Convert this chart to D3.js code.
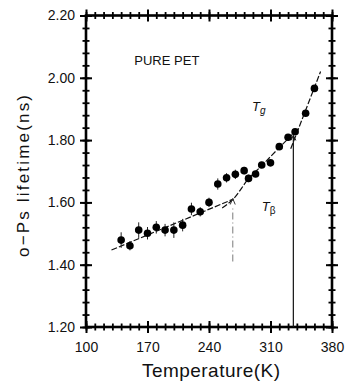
<!DOCTYPE html>
<html>
<head>
<meta charset="utf-8">
<script src="https://cdn.jsdelivr.net/npm/d3@7"></script>
<style>
  body { margin: 0; background: #fff; }
  svg { display: block; font-family: "Liberation Sans", Arial, sans-serif; }
  .fit { fill: none; stroke: #111; stroke-width: 1.2; stroke-dasharray: 6,2; }
  .tick text { font-size: 14px; fill: #111; }
  .tick line { stroke: #000; stroke-width: 2; }
  .minor .tick line { stroke-width: 1.8; }
</style>
</head>
<body>
<svg id="chart" width="347" height="382"></svg>
<script>
// measured o-Ps lifetime vs temperature
const temps = [140, 150, 160, 170, 180, 190, 200, 210, 220, 230, 240, 250,
  260, 270, 280, 285, 293, 300, 310, 320, 330, 338, 350, 360];
const lifetimes = [1.479, 1.461, 1.511, 1.501, 1.520, 1.511, 1.511, 1.527, 1.579, 1.570, 1.600, 1.659,
  1.679, 1.690, 1.702, 1.677, 1.691, 1.720, 1.727, 1.779, 1.809, 1.827, 1.886, 1.966];
const errors = [0.025, 0.015, 0.025, 0.02, 0.02, 0.02, 0.025, 0.02, 0.02, 0.015, 0.015, 0.018,
  0.015, 0.015, 0.012, 0.012, 0.01, 0.01, 0.01, 0.01, 0.01, 0.01, 0.01, 0.01];

// fitted lines
const fitLowT = [129, 268];
const fitLowV = [1.447, 1.611];
const fitMidT = [255, 268, 285, 300, 320, 342];
const fitMidV = [1.582, 1.612, 1.676, 1.718, 1.776, 1.838];
const fitHighT = [333, 367];
const fitHighV = [1.772, 2.02];

// transition markers
const tBeta = 267;
const tBetaRange = [1.41, 1.59];
const tGlass = 336;
const tGlassRange = [1.20, 1.815];

const xMajor = [100, 170, 240, 310, 380];
const xMinor = d3.range(100, 381, 10);
const yMajor = [1.20, 1.40, 1.60, 1.80, 2.00, 2.20];
const yMinor = d3.range(1.20, 2.2001, 0.04);

const plotLeft = 86, plotRight = 332, plotTop = 15.5, plotBottom = 327;

const svg = d3.select('#chart');

const x = d3.scaleLinear().domain([100, 380]).range([plotLeft, plotRight]);
const y = d3.scaleLinear().domain([1.2, 2.2]).range([plotBottom, plotTop]);

// frame
svg.append('rect')
  .attr('x', plotLeft).attr('y', plotTop)
  .attr('width', plotRight - plotLeft).attr('height', plotBottom - plotTop)
  .attr('fill', 'none').attr('stroke', '#000').attr('stroke-width', 2.6);

// crossing tick marks on all four sides
function crossTicks(g, len, horiz) {
  g.select('.domain').remove();
  if (horiz) {
    g.selectAll('.tick line').attr('y1', -len).attr('y2', len);
  } else {
    g.selectAll('.tick line').attr('x1', -len).attr('x2', len);
  }
}

svg.append('g').attr('class', 'minor')
  .attr('transform', 'translate(0,' + plotBottom + ')')
  .call(d3.axisBottom(x).tickValues(xMinor).tickFormat('').tickSize(0))
  .call(g => crossTicks(g, 3.5, true));
svg.append('g').attr('class', 'minor')
  .attr('transform', 'translate(0,' + plotTop + ')')
  .call(d3.axisTop(x).tickValues(xMinor).tickFormat('').tickSize(0))
  .call(g => crossTicks(g, 3.5, true));
svg.append('g').attr('class', 'minor')
  .attr('transform', 'translate(' + plotLeft + ',0)')
  .call(d3.axisLeft(y).tickValues(yMinor).tickFormat('').tickSize(0))
  .call(g => crossTicks(g, 3.5, false));
svg.append('g').attr('class', 'minor')
  .attr('transform', 'translate(' + plotRight + ',0)')
  .call(d3.axisRight(y).tickValues(yMinor).tickFormat('').tickSize(0))
  .call(g => crossTicks(g, 3.5, false));

svg.append('g')
  .attr('transform', 'translate(0,' + plotBottom + ')')
  .call(d3.axisBottom(x).tickValues(xMajor).tickFormat(d3.format('d')).tickSize(5).tickPadding(10))
  .call(g => crossTicks(g, 6, true));
svg.append('g')
  .attr('transform', 'translate(0,' + plotTop + ')')
  .call(d3.axisTop(x).tickValues(xMajor).tickFormat('').tickSize(5))
  .call(g => crossTicks(g, 6, true));
svg.append('g')
  .attr('transform', 'translate(' + plotLeft + ',0)')
  .call(d3.axisLeft(y).tickValues(yMajor).tickFormat(d3.format('.2f')).tickSize(5).tickPadding(6))
  .call(g => crossTicks(g, 6, false));
svg.append('g')
  .attr('transform', 'translate(' + plotRight + ',0)')
  .call(d3.axisRight(y).tickValues(yMajor).tickFormat('').tickSize(5))
  .call(g => crossTicks(g, 6, false));

// fits
const line = d3.line().x(d => x(d[0])).y(d => y(d[1]));
svg.append('path').attr('class', 'fit')
  .attr('d', line(d3.zip(fitLowT, fitLowV)));
svg.append('path').attr('class', 'fit')
  .attr('d', line.curve(d3.curveMonotoneX)(d3.zip(fitMidT, fitMidV)));
svg.append('path').attr('class', 'fit')
  .attr('d', line.curve(d3.curveLinear)(d3.zip(fitHighT, fitHighV)));

// T_beta marker (grey dash-dot)
svg.append('line')
  .attr('x1', x(tBeta)).attr('x2', x(tBeta))
  .attr('y1', y(tBetaRange[0])).attr('y2', y(tBetaRange[1]))
  .attr('stroke', '#9a9a9a').attr('stroke-width', 1.3)
  .attr('stroke-dasharray', '7,3,1,3');
svg.append('path')
  .attr('d', `M${x(tBeta) - 2.5},${y(tBetaRange[1]) - 1}L${x(tBeta)},${y(tBetaRange[1]) - 7}L${x(tBeta) + 2.5},${y(tBetaRange[1]) - 1}`)
  .attr('fill', 'none').attr('stroke', '#333').attr('stroke-width', 1);

// T_g marker (solid)
svg.append('line')
  .attr('x1', x(tGlass)).attr('x2', x(tGlass))
  .attr('y1', y(tGlassRange[0])).attr('y2', y(tGlassRange[1]))
  .attr('stroke', '#111').attr('stroke-width', 1.2);
svg.append('path')
  .attr('d', `M${x(tGlass) - 2.5},${y(tGlassRange[1]) + 5}L${x(tGlass)},${y(tGlassRange[1])}L${x(tGlass) + 2.5},${y(tGlassRange[1]) + 5}`)
  .attr('fill', 'none').attr('stroke', '#111').attr('stroke-width', 1);

// error bars + points
const pts = temps.map((t, i) => ({t: t, v: lifetimes[i], e: errors[i]}));
svg.append('g').selectAll('line')
  .data(pts).join('line')
  .attr('x1', d => x(d.t)).attr('x2', d => x(d.t))
  .attr('y1', d => y(d.v - d.e)).attr('y2', d => y(d.v + d.e))
  .attr('stroke', '#222').attr('stroke-width', 1);
svg.append('g').selectAll('circle')
  .data(pts).join('circle')
  .attr('cx', d => x(d.t)).attr('cy', d => y(d.v))
  .attr('r', 3.8).attr('fill', '#000');

// annotations
svg.append('text')
  .attr('x', x(155)).attr('y', y(2.042))
  .attr('font-size', 13).attr('fill', '#111')
  .text('PURE PET');

const tg = svg.append('text')
  .attr('x', x(289)).attr('y', y(1.893))
  .attr('font-size', 13).attr('font-style', 'italic').attr('fill', '#111');
tg.append('tspan').text('T');
tg.append('tspan').attr('dy', 3).attr('font-size', 10).text('g');

const tb = svg.append('text')
  .attr('x', x(300)).attr('y', y(1.572))
  .attr('font-size', 13).attr('fill', '#111');
tb.append('tspan').attr('font-style', 'italic').text('T');
tb.append('tspan').attr('dy', 3).attr('font-size', 10).text('β');

// axis titles
svg.append('text')
  .attr('x', (plotLeft + plotRight) / 2 + 2).attr('y', 377)
  .attr('text-anchor', 'middle')
  .attr('font-size', 19).attr('fill', '#111')
  .attr('textLength', 138).attr('lengthAdjust', 'spacing')
  .text('Temperature(K)');

svg.append('text')
  .attr('transform', 'translate(29,176) rotate(-90)')
  .attr('text-anchor', 'middle')
  .attr('font-size', 17).attr('fill', '#111')
  .attr('textLength', 162).attr('lengthAdjust', 'spacing')
  .text('o\u2212Ps lifetime(ns)');
</script>
</body>
</html>
